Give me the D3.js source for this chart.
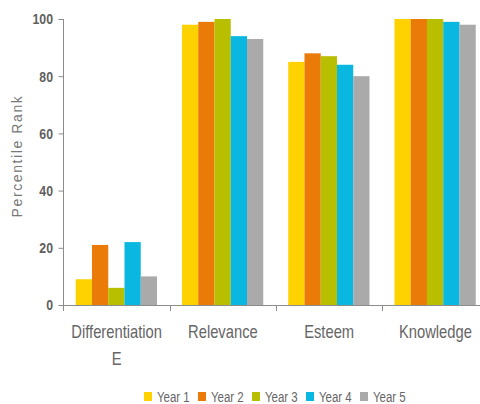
<!DOCTYPE html>
<html>
<head>
<meta charset="utf-8">
<script src="https://cdn.jsdelivr.net/npm/d3@7/dist/d3.min.js"></script>
<style>
  html, body { margin: 0; padding: 0; background: #fff; }
  svg { display: block; }
  text { font-family: "Liberation Sans", Arial, sans-serif; }
</style>
</head>
<body>
<svg id="chart" width="480" height="404"></svg>
<script>
// Brand health scores by dimension, five survey years
const categories = ["Differentiation E", "Relevance", "Esteem", "Knowledge"];
const years = ["Year 1", "Year 2", "Year 3", "Year 4", "Year 5"];
const year1 = [9, 98, 85, 100];
const year2 = [21, 99, 88, 100];
const year3 = [6, 100, 87, 100];
const year4 = [22, 94, 84, 99];
const year5 = [10, 93, 80, 98];
const yTicks = [0, 20, 40, 60, 80, 100];
const colors = ["#FDD200", "#EB7B09", "#B8BF00", "#0AB7E1", "#AAAAAA"];

const series = [year1, year2, year3, year4, year5];
const rows = categories.map((c, i) => ({
  category: c,
  values: years.map((y, j) => ({ year: y, value: series[j][i] }))
}));

const svg = d3.select("#chart");
const axisColor = "#8c8c8c";
const narrow = 0.82; // condensed text look

const x0 = d3.scaleBand().domain(categories).range([63.5, 488.5]).padding(0);
const bw = x0.bandwidth();
const x1 = d3.scaleBand().domain(years).range([bw * 0.115, bw * 0.88]).padding(0);
const y = d3.scaleLinear().domain([0, 100]).range([305, 19]);

// bars
const groups = svg.append("g").selectAll("g")
  .data(rows).join("g")
  .attr("transform", d => `translate(${x0(d.category)},0)`);

groups.selectAll("rect")
  .data(d => d.values).join("rect")
  .attr("x", d => x1(d.year))
  .attr("width", x1.bandwidth())
  .attr("y", d => y(d.value))
  .attr("height", d => y(0) - y(d.value))
  .attr("fill", (d, i) => colors[i]);

// y axis
const yAxis = svg.append("g")
  .attr("transform", "translate(63.5,0)")
  .call(d3.axisLeft(y).tickValues(yTicks).tickSize(5).tickSizeOuter(0).tickPadding(6));
yAxis.select(".domain").remove();
yAxis.selectAll(".tick line").attr("stroke", axisColor);
yAxis.selectAll(".tick text")
  .attr("fill", "#5f5f5f")
  .attr("x", -10.5 / narrow)
  .attr("transform", `scale(${narrow},1)`)
  .style("font-size", "15px")
  .style("font-weight", "bold");
yAxis.append("line")
  .attr("x1", 0).attr("x2", 0)
  .attr("y1", y(100)).attr("y2", y(0) + 6)
  .attr("stroke", axisColor);

// x axis baseline and band separators
const xAxis = svg.append("g");
xAxis.append("line")
  .attr("x1", x0.range()[0]).attr("x2", x0.range()[1])
  .attr("y1", y(0) + 0.5).attr("y2", y(0) + 0.5)
  .attr("stroke", axisColor);
xAxis.selectAll("line.sep")
  .data(categories.slice(1)).join("line")
  .attr("class", "sep")
  .attr("x1", d => Math.round(x0(d)) + 0.5).attr("x2", d => Math.round(x0(d)) + 0.5)
  .attr("y1", y(0)).attr("y2", y(0) + 6)
  .attr("stroke", axisColor);

// category labels, wrapped onto two lines where needed
const labels = xAxis.selectAll("text.cat")
  .data(categories).join("text")
  .attr("class", "cat")
  .attr("text-anchor", "middle")
  .attr("fill", "#666")
  .style("font-size", "18px")
  .attr("transform", d => `translate(${x0(d) + bw / 2},338) scale(${narrow},1)`);
labels.each(function (d) {
  const parts = d === "Differentiation E" ? ["Differentiation", "E"] : [d];
  d3.select(this).selectAll("tspan")
    .data(parts).join("tspan")
    .attr("x", 0)
    .attr("dy", (p, i) => i === 0 ? 0 : 27)
    .text(p => p);
});

// y axis title
svg.append("text")
  .attr("transform", "translate(22,156) rotate(-90)")
  .attr("text-anchor", "middle")
  .attr("fill", "#777")
  .style("font-size", "14px")
  .style("letter-spacing", "1.6px")
  .text("Percentile Rank");

// legend
const legend = svg.append("g").attr("transform", "translate(144,392)");
const item = legend.selectAll("g")
  .data(years).join("g")
  .attr("transform", (d, i) => `translate(${i * 54},0)`);
item.append("rect")
  .attr("width", 8).attr("height", 9)
  .attr("fill", (d, i) => colors[i]);
item.append("text")
  .attr("transform", `translate(13,9.5) scale(${narrow},1)`)
  .attr("fill", "#666")
  .style("font-size", "14px")
  .text(d => d);
</script>
</body>
</html>
